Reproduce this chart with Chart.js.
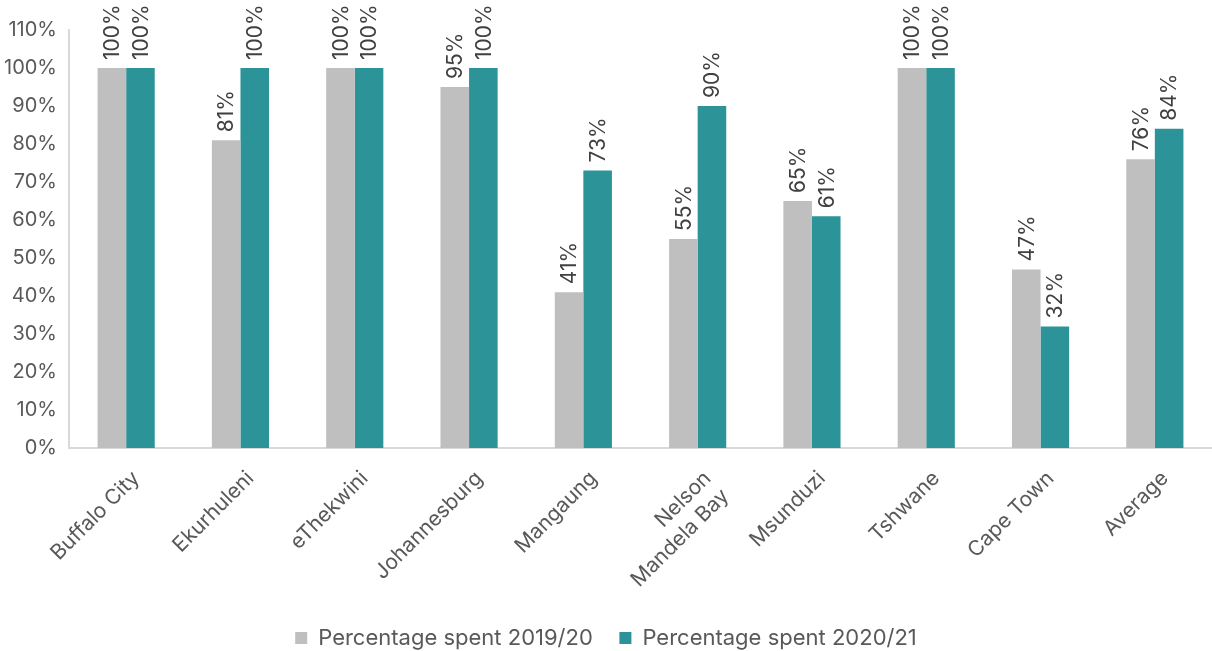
<!DOCTYPE html>
<html>
<head>
<meta charset="utf-8">
<script src="https://cdn.jsdelivr.net/npm/chart.js@4/dist/chart.umd.min.js"></script>
<style>
  html, body { margin: 0; padding: 0; background: #ffffff; }
  #wrap { width: 1212px; height: 651px; }
</style>
</head>
<body>
<div id="wrap"><canvas id="grafica"></canvas></div>
<script>
// Municipios y porcentaje gastado por ciclo.
var municipios = ['Buffalo City', 'Ekurhuleni', 'eThekwini', 'Johannesburg', 'Mangaung',
    ['Nelson', 'Mandela Bay'], 'Msunduzi', 'Tshwane', 'Cape Town', 'Average'];
var gasto1920 = [100, 81, 100, 95, 41, 55, 65, 100, 47, 76];
var gasto2021 = [100, 100, 100, 100, 73, 90, 61, 100, 32, 84];
var ticksY = [0, 10, 20, 30, 40, 50, 60, 70, 80, 90, 100, 110];

var grisBarra = '#bfbfbf';
var verdeBarra = '#2c9399';
var colorTexto = '#595959';
var fuente = 'Inter, Roboto, sans-serif';

// Dibuja el valor de cada barra girado 90 grados encima de ella.
var etiquetasBarras = {
    id: 'etiquetasBarras',
    afterDatasetsDraw: function (chart) {
        var ctx = chart.ctx;
        ctx.save();
        ctx.fillStyle = '#404040';
        ctx.font = '21px ' + fuente;
        ctx.textAlign = 'left';
        ctx.textBaseline = 'middle';
        chart.data.datasets.forEach(function (ds, i) {
            chart.getDatasetMeta(i).data.forEach(function (bar, j) {
                ctx.save();
                ctx.translate(bar.x + 1, bar.y - 8);
                ctx.rotate(-Math.PI / 2);
                ctx.fillText(ds.data[j] + '%', 0, 0);
                ctx.restore();
            });
        });
        ctx.restore();
    }
};

var context = document.getElementById('grafica').getContext('2d');
var chart = new Chart(context, {
    type: 'bar',
    data: {
        labels: municipios,
        datasets: [
            { label: 'Percentage spent 2019/20', data: gasto1920, backgroundColor: grisBarra },
            { label: 'Percentage spent 2020/21', data: gasto2021, backgroundColor: verdeBarra }
        ]
    },
    options: {
        responsive: true,
        maintainAspectRatio: false,
        animation: false,
        layout: { padding: { top: 30, right: 0, left: 0, bottom: -8 } },
        plugins: {
            legend: {
                position: 'bottom',
                labels: {
                    color: colorTexto,
                    font: { family: fuente, size: 22 },
                    boxWidth: 12,
                    boxHeight: 12,
                    padding: 8,
                    generateLabels: function (chart) {
                        var items = Chart.defaults.plugins.legend.labels.generateLabels(chart);
                        // separacion extra entre las dos entradas
                        items[0].text = items[0].text + '   ';
                        return items;
                    }
                }
            },
            tooltip: { enabled: false }
        },
        scales: {
            x: {
                grid: { display: false },
                border: { color: '#d9d9d9', width: 2 },
                ticks: {
                    color: colorTexto,
                    font: { family: fuente, size: 21 },
                    maxRotation: 45,
                    minRotation: 45,
                    padding: 10,
                    labelOffset: 10
                },
                afterFit: function (axis) { axis.height = 171; }
            },
            y: {
                min: 0,
                max: 110,
                grid: { display: false },
                border: { color: '#d9d9d9', width: 2 },
                afterBuildTicks: function (axis) {
                    axis.ticks = ticksY.map(function (v) { return { value: v }; });
                },
                ticks: {
                    color: colorTexto,
                    font: { family: fuente, size: 20 },
                    padding: 4,
                    callback: function (v) { return v + '%'; }
                }
            }
        },
        datasets: { bar: { categoryPercentage: 0.5, barPercentage: 1.0 } }
    },
    plugins: [etiquetasBarras]
});
</script>
</body>
</html>
